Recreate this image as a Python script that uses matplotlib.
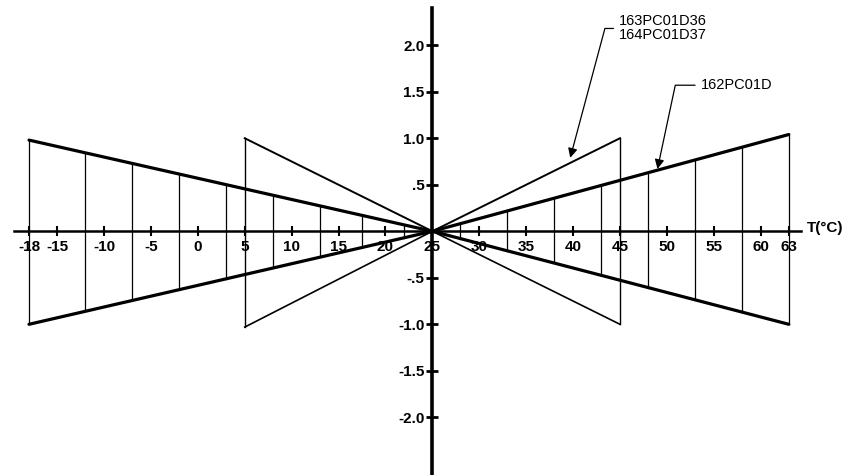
import numpy as np
import matplotlib
matplotlib.use("Agg")
import matplotlib.pyplot as plt

# wide band (162PC01D): upper/lower edges at the ends, apex at 25 C
wide_T = [-18, 25, 63]
wide_hi = [0.98, 0.0, 1.04]
wide_lo = [-1.0, 0.0, -1.0]
# vertical hatch lines inside the wide band
wide_div = [-12, -7, -2, 3, 8, 13, 17.5, 22, 28, 33, 38, 43, 48, 53, 58]

# narrow band (163PC01D36 / 164PC01D37)
narrow_T = [5, 25, 45]
narrow_hi = [1.0, 0.0, 1.0]
narrow_lo = [-1.03, 0.0, -1.0]

xticks = [-18, -15, -10, -5, 0, 5, 10, 15, 20, 25, 30, 35, 40, 45, 50, 55, 60, 63]
yticks = [2.0, 1.5, 1.0, 0.5, -0.5, -1.0, -1.5, -2.0]
ylabels = ["2.0", "1.5", "1.0", ".5", "-.5", "-1.0", "-1.5", "-2.0"]

plt.rcParams['font.family'] = ['Liberation Sans', 'DejaVu Sans']
plt.rcParams['font.size'] = 11

fig = plt.figure(figsize=(8.59, 4.75), dpi=100)
# axes placed so that the axis crossing lands where the drawing has it
ax = fig.add_axes([14/859, 0.0, (801-14)/859, 467/475])
ax.set_xlim(-19.6, 64.3)
ax.set_ylim(-2.62, 2.40)

def interp(t, xs, ys):
    return np.interp(t, xs, ys)

# wide band edges
ax.plot(wide_T, wide_hi, color='black', lw=2.3, solid_capstyle='round')
ax.plot(wide_T, wide_lo, color='black', lw=2.3, solid_capstyle='round')
for t in [wide_T[0], wide_T[-1]] + wide_div:
    ax.plot([t, t], [interp(t, wide_T, wide_lo), interp(t, wide_T, wide_hi)],
            color='black', lw=0.9)

# narrow band
ax.plot(narrow_T, narrow_hi, color='black', lw=1.4)
ax.plot(narrow_T, narrow_lo, color='black', lw=1.2)
for t in [narrow_T[0], narrow_T[-1]]:
    ax.plot([t, t], [interp(t, narrow_T, narrow_lo), interp(t, narrow_T, narrow_hi)],
            color='black', lw=1.0)

# axes through (25, 0)
for s in ['top', 'right']:
    ax.spines[s].set_visible(False)
ax.spines['left'].set_position(('data', 25))
ax.spines['bottom'].set_position(('data', 0))
ax.spines['left'].set_linewidth(2.6)
ax.spines['bottom'].set_linewidth(1.8)

ax.set_xticks(xticks)
ax.set_xticklabels([str(v) for v in xticks])
ax.set_yticks(yticks)
ax.set_yticklabels(ylabels)
ax.tick_params(axis='x', direction='inout', length=7, width=1.5, pad=3)
ax.tick_params(axis='y', direction='inout', length=9, width=2, pad=1)
for lab in ax.get_xticklabels() + ax.get_yticklabels():
    lab.set_fontweight('bold')

ax.text(64.9, 0.03, "T(°C)", ha='left', va='center', fontsize=11,
        fontweight='bold', clip_on=False)

# leader annotations
ax.annotate("163PC01D36\n164PC01D37", xy=(39.7, 0.79), xytext=(44.9, 2.18),
            ha='left', va='center', fontsize=10.5, linespacing=1.0,
            arrowprops=dict(arrowstyle='-|>', color='black', lw=0.9,
                            connectionstyle='angle,angleA=0,angleB=75,rad=0',
                            shrinkA=2, shrinkB=0, mutation_scale=14))
ax.annotate("162PC01D", xy=(49.0, 0.67), xytext=(53.6, 1.57),
            ha='left', va='center', fontsize=10.5,
            arrowprops=dict(arrowstyle='-|>', color='black', lw=0.9,
                            connectionstyle='angle,angleA=0,angleB=78,rad=0',
                            shrinkA=2, shrinkB=0, mutation_scale=14))

fig.savefig("out.png", dpi=100)
